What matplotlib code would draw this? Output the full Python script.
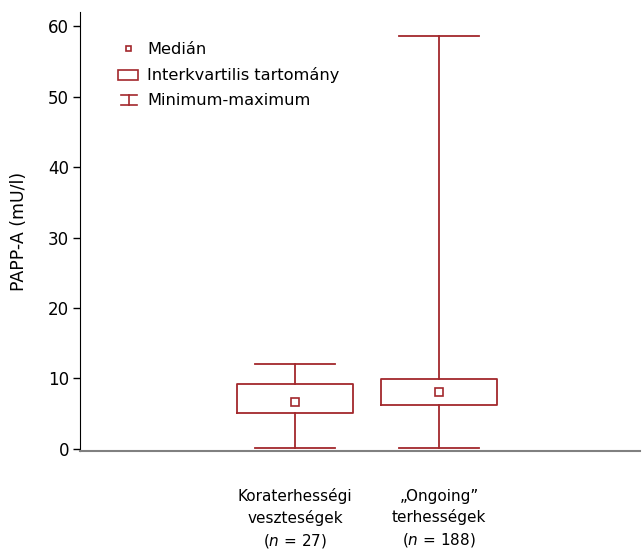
import matplotlib
matplotlib.use("Agg")
import matplotlib.pyplot as plt
from matplotlib.lines import Line2D
from matplotlib.patches import Rectangle
from matplotlib.legend_handler import HandlerBase

plt.rcParams['font.family'] = ['DejaVu Sans']
plt.rcParams['mathtext.fontset'] = 'dejavusans'

# Summary statistics per group
groups = ["Koraterhességi\nveszteségek\n($\\it{n}$ = 27)",
          "\u201eOngoing\u201d\nterhességek\n($\\it{n}$ = 188)"]
minimum = [0.1, 0.1]
q1 = [5.1, 6.2]
median = [6.6, 8.1]
q3 = [9.2, 9.9]
maximum = [12.0, 58.6]

red = '#a3282c'

fig = plt.figure(figsize=(6.43, 5.5), dpi=100)
ax = fig.add_axes([0.1244, 0.18, 0.871, 0.798])

stats = [dict(med=m, q1=a, q3=b, whislo=lo, whishi=hi, label=g)
         for g, lo, a, m, b, hi in zip(groups, minimum, q1, median, q3, maximum)]
positions = [1, 2]
ax.bxp(stats, positions=positions, widths=0.8, capwidths=0.56,
       showfliers=False,
       boxprops=dict(color=red, linewidth=1.3),
       whiskerprops=dict(color=red, linewidth=1.3),
       capprops=dict(color=red, linewidth=1.3),
       medianprops=dict(linestyle='none'))
ax.plot(positions, median, linestyle='none', marker='s', markersize=5.5,
        markerfacecolor='white', markeredgecolor=red, markeredgewidth=1.2)

ax.set_xlim(-0.493, 3.396)
ax.set_ylim(-0.3, 62)
ax.set_yticks([0, 10, 20, 30, 40, 50, 60])
ax.tick_params(axis='y', labelsize=12, length=5, width=1, direction='out', pad=3)
ax.set_xticks(positions)
ax.set_xticklabels(groups, fontsize=11, linespacing=1.45)
ax.tick_params(axis='x', length=0, pad=27)
ax.set_ylabel('PAPP-A (mU/l)', fontsize=12.5, labelpad=14)

ax.spines['top'].set_visible(False)
ax.spines['right'].set_visible(False)
ax.spines['left'].set_color('black')
ax.spines['bottom'].set_color('#808080')
ax.spines['bottom'].set_linewidth(1.5)


class WhiskerHandler(HandlerBase):
    def create_artists(self, legend, orig_handle, xdescent, ydescent,
                       width, height, fontsize, trans):
        x0 = -xdescent + 0.15 * width
        x1 = -xdescent + 0.95 * width
        cx = (x0 + x1) / 2
        y0 = -ydescent
        y1 = height * 0.85 - ydescent
        arts = [Line2D([cx, cx], [y0, y1]),
                Line2D([x0, x1], [y0, y0]),
                Line2D([x0, x1], [y1, y1])]
        for a in arts:
            a.set_color(red)
            a.set_linewidth(1.2)
            a.set_transform(trans)
        return arts


class BoxHandler(HandlerBase):
    def create_artists(self, legend, orig_handle, xdescent, ydescent,
                       width, height, fontsize, trans):
        r = Rectangle((-xdescent, -ydescent), width, height * 0.9,
                      facecolor='none', edgecolor=red, linewidth=1.2,
                      transform=trans)
        return [r]


class WhiskerKey:
    pass


class BoxKey:
    pass


med_handle = Line2D([], [], linestyle='none', marker='s', markersize=3.6,
                    markerfacecolor='white', markeredgecolor=red,
                    markeredgewidth=1.2)
ax.legend([med_handle, BoxKey(), WhiskerKey()],
          ['Medián', 'Interkvartilis tartomány', 'Minimum-maximum'],
          handler_map={WhiskerKey: WhiskerHandler(), BoxKey: BoxHandler()},
          loc='upper left', bbox_to_anchor=(0.0565, 0.947), frameon=False,
          fontsize=11.7, handlelength=1.2, handletextpad=0.58, labelspacing=0.62,
          borderaxespad=0)

fig.savefig('out.png', dpi=100)
